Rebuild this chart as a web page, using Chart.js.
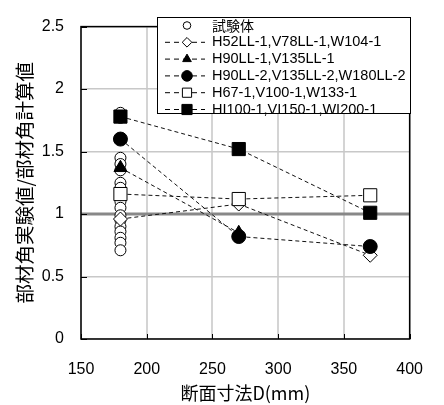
<!DOCTYPE html>
<html>
<head>
<meta charset="utf-8">
<script src="https://cdn.jsdelivr.net/npm/chart.js@4/dist/chart.umd.min.js"></script>
<style>
  html, body { margin: 0; padding: 0; background: #fff; }
  #wrap { width: 444px; height: 405px; position: relative; }
</style>
</head>
<body>
<div id="wrap"><canvas id="ratioChart"></canvas></div>
<script>
// data
const seriesNames = [
    '試験体',
    'H52LL-1,V78LL-1,W104-1',
    'H90LL-1,V135LL-1',
    'H90LL-2,V135LL-2,W180LL-2',
    'H67-1,V100-1,W133-1',
    'HI100-1,VI150-1,WI200-1'
];
const specimenD = [180, 180, 180, 180, 180, 180, 180, 180, 180, 180, 180, 180, 180, 180, 180, 180, 180];
const specimenRatio = [1.81, 1.77, 1.45, 1.40, 1.35, 1.25, 1.21, 1.16, 1.10, 1.05, 0.99, 0.95, 0.90, 0.86, 0.81, 0.77, 0.71];
const sizeD = [180, 270, 370];
const h52Ratio = [0.96, 1.08, 0.67];
const h90Ratio = [1.37, 0.85];
const h90l2Ratio = [1.60, 0.82, 0.74];
const h67Ratio = [1.16, 1.12, 1.15];
const hi100Ratio = [1.78, 1.52, 1.01];
const refRatio = 1;
const xTicks = [150, 200, 250, 300, 350, 400];
const yTicks = [0, 0.5, 1, 1.5, 2, 2.5];

const toPoints = (xs, ys) => ys.map((v, i) => ({ x: xs[i], y: v }));

document.addEventListener('DOMContentLoaded', function() {
    if (typeof Chart === 'undefined') {
        console.error('Chart.js is not loaded!');
        return;
    }

    const tickFont = { family: "'Liberation Sans', Arial, sans-serif", size: 16 };

    // point styles per series (index matches seriesNames), legend uses smaller marks
    const marks = [
        { style: 'circle', radius: 5.5, legend: 3.8, fill: '#fff' },
        { style: 'rectRot', radius: 7, legend: 4.8, fill: '#fff' },
        { style: 'triangle', radius: 7.5, legend: 5, fill: '#000' },
        { style: 'circle', radius: 7, legend: 5.3, fill: '#000' },
        { style: 'rect', radius: 9.3, legend: 6.5, fill: '#fff' },
        { style: 'rect', radius: 9.3, legend: 7.2, fill: '#000' }
    ];

    const lineSet = (idx, xs, ys, order) => ({
        label: seriesNames[idx],
        data: toPoints(xs, ys),
        showLine: true,
        borderColor: '#111',
        borderWidth: 1,
        borderDash: [4, 3],
        pointStyle: marks[idx].style,
        pointRadius: marks[idx].radius,
        pointBackgroundColor: marks[idx].fill,
        pointBorderColor: '#000',
        pointBorderWidth: 1,
        order: order
    });

    // reference line, frame and inward ticks
    const framePlugin = {
        id: 'frame',
        beforeDatasetsDraw(chart) {
            const { ctx, chartArea: a, scales: { x, y } } = chart;
            const py = y.getPixelForValue(refRatio);
            ctx.save();
            ctx.strokeStyle = '#888';
            ctx.lineWidth = 3;
            ctx.beginPath();
            ctx.moveTo(a.left, py);
            ctx.lineTo(a.right, py);
            ctx.stroke();

            ctx.strokeStyle = '#000';
            ctx.lineWidth = 1;
            ctx.beginPath();
            xTicks.forEach(v => {
                const px = Math.round(x.getPixelForValue(v)) + 0.5;
                ctx.moveTo(px, a.bottom);
                ctx.lineTo(px, a.bottom - 5);
            });
            yTicks.forEach(v => {
                const p = Math.round(y.getPixelForValue(v)) + 0.5;
                ctx.moveTo(a.left, p);
                ctx.lineTo(a.left + 6, p);
            });
            ctx.stroke();
            ctx.lineWidth = 1.5;
            ctx.strokeRect(a.left, a.top, a.right - a.left, a.bottom - a.top);
            ctx.restore();
        }
    };

    // legend box drawn by hand (dashed line + marker)
    const legendPlugin = {
        id: 'boxLegend',
        afterDraw(chart) {
            const ctx = chart.ctx;
            const box = { left: 157, top: 17, right: 410, bottom: 113 };
            const rowH = 16.8;
            ctx.save();
            ctx.fillStyle = '#fff';
            ctx.fillRect(box.left, box.top, box.right - box.left, box.bottom - box.top);
            ctx.strokeStyle = '#000';
            ctx.lineWidth = 1;
            ctx.strokeRect(box.left + 0.5, box.top + 0.5, box.right - box.left, box.bottom - box.top);

            seriesNames.forEach((name, i) => {
                const cy = box.top + 8.5 + rowH * i;
                const mx = 187;
                if (i > 0) {
                    ctx.strokeStyle = '#000';
                    ctx.lineWidth = 1;
                    ctx.setLineDash([5, 4]);
                    ctx.beginPath();
                    ctx.moveTo(165, cy);
                    ctx.lineTo(205, cy);
                    ctx.stroke();
                    ctx.setLineDash([]);
                }
                ctx.fillStyle = marks[i].fill;
                ctx.strokeStyle = '#000';
                ctx.lineWidth = 1;
                Chart.helpers.drawPoint(ctx, {
                    pointStyle: marks[i].style,
                    radius: marks[i].legend,
                    rotation: 0,
                    borderWidth: 1
                }, mx, cy);
                ctx.fillStyle = '#000';
                ctx.font = i === 0
                    ? "14px 'Noto Sans CJK JP', sans-serif"
                    : "14.5px 'Liberation Sans', Arial, sans-serif";
                ctx.textBaseline = 'middle';
                ctx.textAlign = 'left';
                ctx.fillText(name, 212, cy);
            });
            ctx.restore();
        }
    };

    const canvas = document.getElementById('ratioChart');
    canvas.chart = new Chart(canvas.getContext('2d'), {
        type: 'scatter',
        data: {
            datasets: [
                {
                    label: seriesNames[0],
                    data: toPoints(specimenD, specimenRatio),
                    pointStyle: 'circle',
                    pointRadius: marks[0].radius,
                    pointBackgroundColor: '#fff',
                    pointBorderColor: '#000',
                    pointBorderWidth: 1,
                    order: 10
                },
                lineSet(1, sizeD, h52Ratio, 5),
                lineSet(2, sizeD, h90Ratio, 4),
                lineSet(3, sizeD, h90l2Ratio, 3),
                lineSet(4, sizeD, h67Ratio, 2),
                lineSet(5, sizeD, hi100Ratio, 1)
            ]
        },
        options: {
            responsive: true,
            maintainAspectRatio: false,
            animation: false,
            layout: { padding: { top: 13, right: 31, left: 0, bottom: 0 } },
            scales: {
                x: {
                    type: 'linear',
                    min: 150,
                    max: 400,
                    afterFit: s => { s.height = 66; },
                    afterBuildTicks: s => { s.ticks = xTicks.map(v => ({ value: v })); },
                    grid: { color: '#d4d4d4', lineWidth: 2, drawTicks: false },
                    border: { display: false },
                    ticks: { color: '#000', font: tickFont, padding: 21, maxRotation: 0,
                        callback: v => String(v) },
                    title: {
                        display: true,
                        text: '断面寸法D(mm)',
                        color: '#000',
                        font: { family: "'Noto Sans CJK JP', sans-serif", size: 18 },
                        padding: { top: 0, bottom: 1 }
                    }
                },
                y: {
                    min: 0,
                    max: 2.5,
                    afterFit: s => { s.width = 81; },
                    afterBuildTicks: s => { s.ticks = yTicks.map(v => ({ value: v })); },
                    grid: { color: '#c8c8c8', lineWidth: 1.5, drawTicks: false },
                    border: { display: false },
                    ticks: { color: '#000', font: tickFont, padding: 17,
                        callback: v => String(v) },
                    title: {
                        display: true,
                        text: '部材角実験値/部材角計算値',
                        color: '#000',
                        font: { family: "'Noto Sans CJK JP', sans-serif", size: 19.5 },
                        padding: { top: 13, bottom: 0 }
                    }
                }
            },
            plugins: {
                legend: { display: false },
                tooltip: { enabled: false }
            }
        },
        plugins: [framePlugin, legendPlugin]
    });
});
</script>
</body>
</html>
